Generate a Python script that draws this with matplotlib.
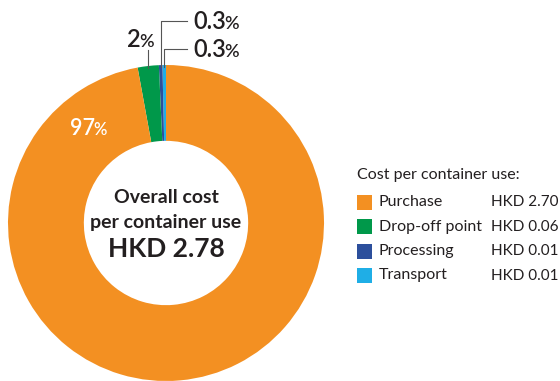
import matplotlib
matplotlib.use('Agg')
import matplotlib.pyplot as plt
from matplotlib.patches import Rectangle
import numpy as np

plt.rcParams['font.family'] = ['Lato', 'DejaVu Sans']

# cost breakdown per container use (HKD)
categories = ['Purchase', 'Drop-off point', 'Processing', 'Transport']
costs = [2.70, 0.06, 0.01, 0.01]
pct_labels = ['97', '2', '0.3', '0.3']
colors = ['#F39022', '#00984A', '#2C4F9C', '#1FAEE6']
text_col = '#231F20'

W, H = 560, 381
fig = plt.figure(figsize=(W / 100, H / 100), dpi=100)

# donut axes: centre at (166, 223) px, outer radius 158 px
cx, cy, R = 166, 223, 158
ax = fig.add_axes([(cx - R) / W, (H - cy - R) / H, 2 * R / W, 2 * R / H])
ax.axis('off')

# draw wedges starting at the top, smallest segments first going left
order = [3, 2, 1, 0]
wedges, _ = ax.pie([costs[i] for i in order], colors=[colors[i] for i in order],
                   startangle=90, counterclock=True, radius=1,
                   wedgeprops=dict(width=0.48, linewidth=0))
ax.set_xlim(-1, 1)
ax.set_ylim(-1, 1)

renderer = fig.canvas.get_renderer()


def px(x, y):
    # figure pixel (from top-left) -> donut data coords
    return (x - cx) / R, (cy - y) / R


def pct_text(x, y, num, size, pct_size, color, ha='left', gap=-1.5):
    t = ax.text(x, y, num, fontsize=size, color=color, ha='left', va='baseline',
                fontweight='semibold', clip_on=False)
    bb = t.get_window_extent(renderer)
    p = ax.text(0, 0, '%', fontsize=pct_size, color=color, ha='left',
                va='baseline', fontweight='semibold', clip_on=False)
    pb = p.get_window_extent(renderer)
    total_w = bb.width + gap + pb.width
    # shift whole group according to alignment
    inv = ax.transData.inverted()
    x0_disp, y_disp = ax.transData.transform((x, y))
    if ha == 'center':
        x0_disp -= total_w / 2
    t.set_position(inv.transform((x0_disp, y_disp)))
    p.set_position(inv.transform((x0_disp + bb.width + gap, y_disp)))


def mid_angle(w):
    return np.deg2rad((w.theta1 + w.theta2) / 2)


# 97% inside the purchase wedge
x, y = px(88, 135)
pct_text(x, y, pct_labels[0], 15.5, 12, 'white', ha='center')

# 2% with a short vertical leader
a = mid_angle(wedges[2])
lx = np.cos(a)
ax.plot([lx, lx], [np.sin(a) * 0.985, px(0, 50)[1]], color='#555555', lw=0.8,
        clip_on=False)
x, y = px(140, 47)
pct_text(x, y, pct_labels[1], 17, 13, text_col, ha='center')

# 0.3% labels with elbow leaders
for w, ly, lab in [(wedges[1], 21, pct_labels[2]), (wedges[0], 49, pct_labels[3])]:
    a = mid_angle(w)
    lx = np.cos(a)
    yl = px(0, ly)[1]
    xe = px(187, 0)[0]
    ax.plot([lx, lx, xe], [np.sin(a) * 0.985, yl, yl], color='#555555', lw=0.8,
            clip_on=False)
    x, y = px(193, ly + 8)
    pct_text(x, y, lab, 17, 13, text_col)

# centre text
total = sum(costs)
ax.text(0, px(0, 198)[1], 'Overall cost', ha='center', va='center',
        fontsize=14, fontweight='bold', color=text_col)
ax.text(0, px(0, 223)[1], 'per container use', ha='center', va='center',
        fontsize=14, fontweight='bold', color=text_col)
ax.text(0, px(0, 249)[1], f'HKD {total:.2f}', ha='center', va='center',
        fontsize=19, fontweight='bold', color=text_col)

# legend on the right
fig.text(357 / W, 1 - 175 / H, 'Cost per container use:', fontsize=11.5,
         color=text_col, va='center')
for k, (name, val, c) in enumerate(zip(categories, costs, colors)):
    yc = 202 + k * 24.5
    fig.patches.append(Rectangle((357 / W, 1 - (yc + 7.5) / H), 15 / W, 15 / H,
                                 transform=fig.transFigure, facecolor=c,
                                 edgecolor='none'))
    fig.text(379 / W, 1 - yc / H, name, fontsize=11.5, color=text_col,
             va='center')
    fig.text(558.5 / W, 1 - yc / H, f'HKD {val:.2f}', fontsize=11,
             color=text_col, va='center', ha='right')

fig.savefig('out.png', dpi=100)
